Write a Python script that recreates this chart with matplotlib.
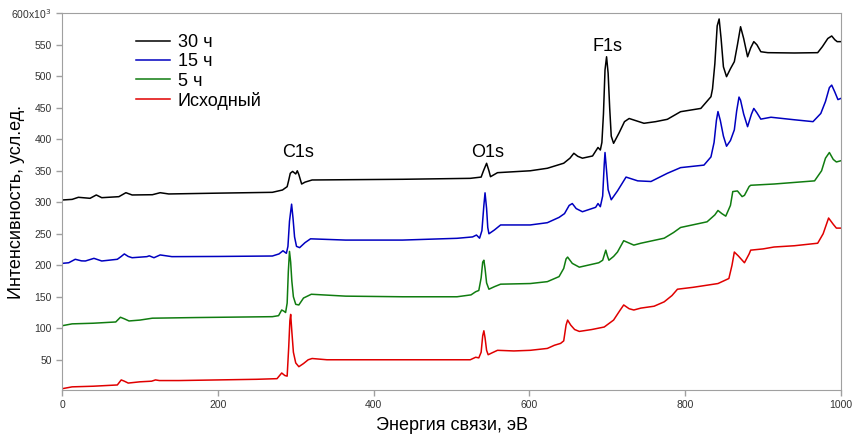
import matplotlib
matplotlib.use('Agg')
import matplotlib.pyplot as plt

plt.rcParams['font.family'] = ['Liberation Sans', 'DejaVu Sans']

# energy (eV) and intensity (x10^3 counts)
e_red = [0, 13, 40, 71, 76, 80, 85, 100, 115, 120, 125, 150, 200, 250, 276, 282, 286, 289,
         291, 292.5, 293.5, 295, 297, 300, 304, 310, 316, 321, 340, 380, 420, 470, 524, 531,
         535, 538, 540, 541.5, 543, 545, 547, 552, 559, 580, 601, 623, 632, 640, 644, 647,
         649, 653, 658, 664, 680, 696, 708, 716, 721, 728, 734, 743, 760, 773, 783, 790,
         810, 842, 856, 860, 863, 868, 876, 882, 884, 900, 914, 940, 970, 977, 984, 990,
         994, 1000]
i_red = [4, 7, 8, 10, 18, 16, 13, 15, 16, 18, 17, 17, 18, 19, 20, 29, 25, 24,
         70, 112, 122, 95, 62, 45, 39, 44, 50, 52, 50, 50, 50, 50, 50, 54,
         53, 62, 88, 96, 85, 65, 58, 61, 65, 64, 65, 68, 73, 76, 80, 105,
         113, 105, 98, 95, 98, 102, 113, 128, 137, 131, 129, 132, 135, 142, 152, 162,
         165, 171, 179, 200, 221, 215, 204, 218, 224, 226, 229, 231, 235, 250, 275, 265,
         259, 259]

e_green = [0, 13, 40, 69, 75, 80, 86, 100, 116, 171, 270, 278, 282, 285, 287, 289, 290.5,
           292, 293.5, 295, 297, 300, 304, 310, 320, 364, 437, 507, 525, 531, 535, 538, 540,
           541.5, 543, 545, 548, 555, 563, 601, 623, 638, 644, 647, 649, 655, 664, 689, 694,
           696, 698, 700, 702, 708, 713, 721, 734, 743, 773, 785, 794, 828, 838, 842, 847,
           852, 858, 861, 867, 873, 876, 882, 884, 914, 966, 975, 980, 985, 990, 994, 1000]
i_green = [104, 107, 108, 110, 117.5, 115, 111.6, 113, 116, 117, 118.4, 120, 129, 127, 125, 140, 190,
           222, 205, 175, 150, 138, 137, 148, 154, 151, 150, 150, 153, 158, 160, 180, 205,
           208, 195, 172, 162, 166, 170, 171, 174, 182, 195, 210, 213, 203, 197, 204, 208,
           216, 224, 215, 208, 214, 221, 239, 232, 235, 243, 252, 260, 269, 280, 287, 282,
           278, 295, 317, 318, 309, 311, 325, 327, 329, 334, 350, 370, 379, 368, 364, 366]

e_blue = [0, 8.6, 17, 25, 30, 41, 51, 71, 76, 80, 85, 90, 109, 112, 118, 126, 141, 200, 270,
          278.5, 283.6, 288, 290, 292, 294.7, 296.5, 298.5, 301, 305, 312, 319, 364, 437, 507,
          527, 532, 536, 539, 541.5, 543, 545, 546.5, 548, 555, 563, 601, 623, 638, 645, 651,
          655, 660, 668, 685, 688, 691, 694, 696, 697, 699, 701, 705, 713, 724, 739, 756, 777,
          794, 824, 833, 837, 840, 842, 845, 849, 853, 858, 863, 866, 869, 871, 875, 880, 885,
          888, 892, 897, 910, 940, 964, 974, 980, 985, 988, 992, 996, 1000]
i_blue = [203, 204, 209.5, 207, 206.8, 211, 206.8, 209.5, 214, 218, 214, 212, 213.7, 215, 212, 216.4, 213.7, 214, 214.7,
          218, 223, 219, 230, 270, 297, 275, 245, 230, 228, 236, 242, 240, 240, 242.8,
          245, 248, 243, 255, 295, 315, 290, 260, 250, 256, 264, 264, 267.6, 276, 282, 295,
          298, 290, 285, 292, 298, 293, 310, 360, 379, 350, 320, 304, 318, 340, 334, 333, 346,
          355, 359, 372, 395, 430, 444, 430, 405, 389, 398, 415, 445, 467, 462, 440, 420, 440,
          449, 442, 432, 435, 431, 428, 441, 460, 482, 486, 475, 463, 465]

e_black = [0, 13, 21, 36, 44, 51, 73, 82, 90, 116, 126, 137, 200, 270, 283, 289, 291, 293,
           296, 300, 302, 304, 307.6, 312, 321, 437, 524, 538, 541, 545, 548, 550, 559, 601,
           623, 644, 652, 657, 662, 668, 681, 688, 691, 693, 695, 697, 699, 701, 703, 705,
           708, 715, 722, 728, 747, 762, 777, 794, 820, 833, 835, 838, 841, 843.5, 846, 849,
           853, 858, 863, 867, 871, 875, 880, 884, 888, 892, 897, 906, 940, 970, 976, 983,
           988, 992, 995, 1000]
i_black = [303.6, 304.6, 307.9, 306.3, 311.6, 307.3, 308.9, 315.2, 311.6, 312, 315.2, 313.2, 314.5, 315.8, 319.5, 324.8, 335, 346,
           349, 345, 350, 344, 329, 332, 335.4, 336.5, 338, 340, 350, 361.9, 350, 340.6, 347, 350,
           354, 362, 370, 377.8, 373, 370, 373.5, 387, 383, 395, 440, 510, 531, 505, 450, 405,
           393.6, 410, 428, 433, 425.4, 428, 431.7, 443.8, 449, 467.6, 480, 520, 580, 591, 560, 515,
           499.4, 512, 523.2, 550, 578.7, 560, 531, 545, 555, 550, 539, 537.5, 537, 537.5, 547, 560,
           564, 558, 555, 555]

series = [
    (e_black, i_black, '#000000', '30 ч'),
    (e_blue, i_blue, '#0000c0', '15 ч'),
    (e_green, i_green, '#107c10', '5 ч'),
    (e_red, i_red, '#e00000', 'Исходный'),
]

fig, ax = plt.subplots(figsize=(8.53, 4.36), dpi=100)
fig.subplots_adjust(left=0.0727, right=0.986, bottom=0.1055, top=0.9695)

for e, i, c, lab in series:
    ax.plot(e, i, color=c, lw=1.1, label=lab)

ax.set_xlim(0, 1000)
ax.set_ylim(2, 600)

ax.set_xticks([0, 200, 400, 600, 800, 1000])
yt = list(range(50, 601, 50))
ax.set_yticks(yt)
ax.set_yticklabels([str(v) for v in yt[:-1]] + ['600x10$^3$'])

for s in ax.spines.values():
    s.set_color('#a0a0a0')
ax.tick_params(direction='out', length=4, width=1, colors='#a0a0a0',
               labelcolor='#333333', labelsize=7.5)

ax.set_xlabel('Энергия связи, эВ', fontsize=13, labelpad=5)
ax.set_ylabel('Интенсивность, усл.ед.', fontsize=13)
ax.yaxis.set_label_coords(-0.047, 0.5)

ax.text(303, 366, 'C1s', fontsize=13, ha='center', va='bottom')
ax.text(546, 366, 'O1s', fontsize=13, ha='center', va='bottom')
ax.text(700, 534, 'F1s', fontsize=13, ha='center', va='bottom')

ax.legend(loc='upper left', bbox_to_anchor=(0.079, 0.978), frameon=False,
          fontsize=13, labelspacing=0.12, handlelength=1.85, handletextpad=0.45,
          borderaxespad=0.3)

fig.savefig('out.png', dpi=100)
